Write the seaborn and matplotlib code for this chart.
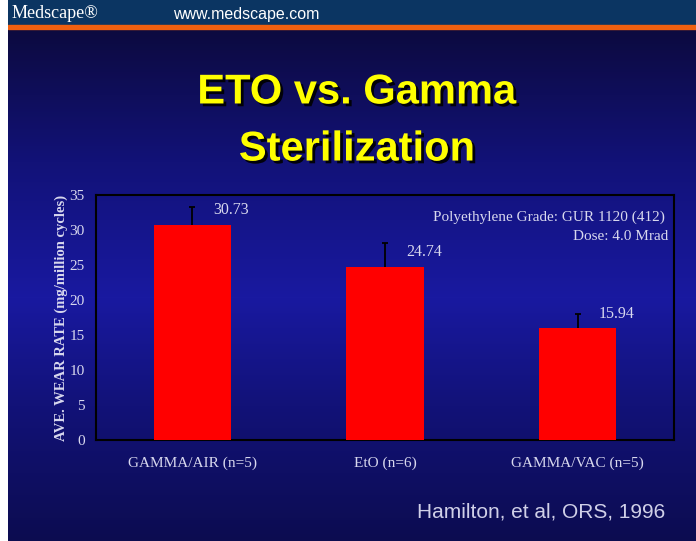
import numpy as np
import pandas as pd
import seaborn as sns
from matplotlib import pyplot as plt
from matplotlib import patheffects as pe

groups = ["GAMMA/AIR (n=5)", "EtO (n=6)", "GAMMA/VAC (n=5)"]
wear = [30.73, 24.74, 15.94]
err_up = [2.5, 3.4, 2.1]
yticks = [0, 5, 10, 15, 20, 25, 30, 35]

df = pd.DataFrame({"group": groups, "wear": wear})

sns.set_style("white")
plt.rcParams["font.family"] = ["Liberation Serif", "DejaVu Serif"]

fig = plt.figure(figsize=(6.96, 5.41), dpi=100)
fig.patch.set_facecolor("white")

# slide background: vertical gradient
bg = fig.add_axes([8 / 696, 0, 688 / 696, 1])
bg.set_axis_off()
stops_y = [0.0, 0.05, 0.30, 0.55, 0.75, 1.0]
stops_c = np.array([[10, 10, 55], [12, 10, 62], [18, 18, 120], [25, 25, 160],
                    [18, 18, 120], [12, 12, 80]]) / 255
yy = np.linspace(0, 1, 541)
grad = np.stack([np.interp(yy, stops_y, stops_c[:, k]) for k in range(3)], axis=-1)
bg.imshow(grad[:, None, :], aspect="auto", extent=[0, 1, 0, 1], origin="upper")
bg.set_xlim(0, 1)
bg.set_ylim(0, 1)
# header bar
bg.axhspan(1 - 25 / 541, 1, color="#0b3562", zorder=2)
bg.axhspan(1 - 29 / 541, 1 - 25 / 541, color="#f06010", zorder=2)
fig.text(12 / 696, 1 - 14 / 541, "Medscape®", color="white", fontsize=13,
         family=["Liberation Serif"], va="center", ha="left")
fig.text(173 / 696, 1 - 14 / 541, "www.medscape.com", color="white", fontsize=11.5,
         family=["Liberation Sans"], va="center", ha="left")

# title with drop shadow
shadow = [pe.withSimplePatchShadow(offset=(2, -2), shadow_rgbFace="black", alpha=0.9)]
fig.text(357 / 696, 1 - 121 / 541, "ETO vs. Gamma\nSterilization", color="#ffff00",
         fontsize=30, fontweight="bold", family=["Liberation Sans"],
         ha="center", va="center", linespacing=1.55, path_effects=shadow)

ax = fig.add_axes([96 / 696, 101 / 541, 578 / 696, 245 / 541])
ax.set_facecolor("none")
sns.barplot(data=df, x="group", y="wear", color="#ff0000", width=0.4,
            saturation=1, linewidth=0, ax=ax, zorder=3)
_, caps, _ = ax.errorbar(range(len(wear)), wear, yerr=[[0] * len(wear), err_up],
                         fmt="none", ecolor="black", elinewidth=1.3, capsize=2.5,
                         capthick=1.3, zorder=4)
caps[0].set_visible(False)
for i, v in enumerate(wear):
    ax.text(i + 0.11, v + 2.1, f"{v:.2f}", color="#d8d8ee", fontsize=11.5,
            ha="left", va="center")

ax.set_xlim(-0.5, 2.5)
ax.set_ylim(0, 35)
ax.set_yticks(yticks)
ax.set_xlabel("")
ax.set_ylabel("AVE. WEAR RATE (mg/million cycles)", color="#d8d8ee",
              fontsize=10.5, fontweight="bold", labelpad=1)
ax.tick_params(axis="both", colors="#d8d8ee", labelsize=11, length=0, pad=8)
ax.tick_params(axis="x", pad=12)
for s in ax.spines.values():
    s.set_color("black")
    s.set_linewidth(1.5)
    s.set_visible(True)

ax.text(0.985, 0.91, "Polyethylene Grade: GUR 1120 (412)", transform=ax.transAxes,
        color="#d8d8ee", fontsize=11, ha="right", va="center")
ax.text(0.99, 0.83, "Dose: 4.0 Mrad", transform=ax.transAxes,
        color="#d8d8ee", fontsize=11, ha="right", va="center")

fig.text(665 / 696, 1 - 512 / 541, "Hamilton, et al, ORS, 1996", color="#d0d0e8",
         fontsize=15, family=["Liberation Sans"], ha="right", va="center")

fig.savefig("out.png", dpi=100)
